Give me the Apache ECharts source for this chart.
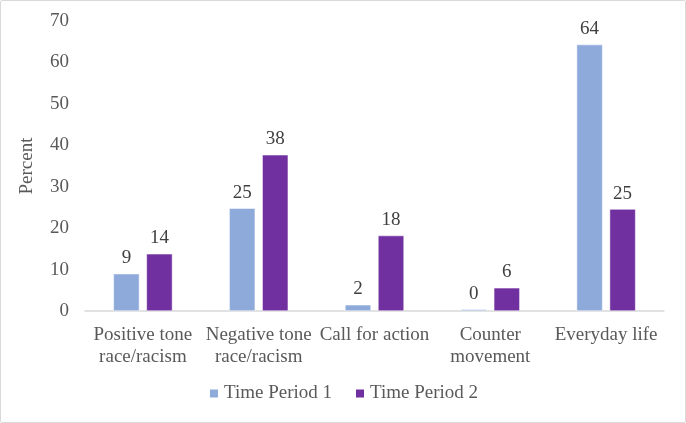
<!DOCTYPE html>
<html>
<head>
<meta charset="utf-8">
<script src="https://cdn.jsdelivr.net/npm/echarts@6/dist/echarts.min.js"></script>
<style>
html,body{margin:0;padding:0;background:#fff;}
#c{position:absolute;left:0;top:0;width:684px;height:421px;border:1px solid #d9d9d9;border-radius:2px;}
</style>
</head>
<body>
<div id="c"></div>
<script>
const categories = ["Positive tone\nrace/racism", "Negative tone\nrace/racism", "Call for action", "Counter\nmovement", "Everyday life"];
const period1 = [9.0, 24.8, 1.5, 0.4, 64.3];
const period2 = [13.8, 37.7, 18.2, 5.6, 24.6];
const seriesNames = ["Time Period 1", "Time Period 2"];
const yTicks = {min: 0, max: 70, interval: 10};

const font = "'Liberation Serif', 'Times New Roman', serif";
const fs = 19;
const chart = echarts.init(document.getElementById('c'));
const lbl = {show: true, position: 'top', distance: 6, color: '#404040', fontFamily: font, fontSize: fs,
  formatter: p => Math.round(p.value)};
chart.setOption({
  animation: false,
  textStyle: {fontFamily: font},
  grid: {left: 84, right: 21, top: 20, bottom: 111},
  legend: {
    bottom: 14, left: 'center', itemWidth: 10, itemHeight: 10, itemGap: 22,
    icon: 'rect',
    textStyle: {fontFamily: font, fontSize: fs, color: '#595959'},
    data: seriesNames
  },
  xAxis: {
    type: 'category', data: categories,
    axisLine: {lineStyle: {color: '#d9d9d9', width: 1.5}},
    axisTick: {show: false},
    axisLabel: {fontFamily: font, fontSize: fs, color: '#595959', margin: 13, lineHeight: 22, interval: 0}
  },
  yAxis: {
    type: 'value', min: yTicks.min, max: yTicks.max, interval: yTicks.interval,
    name: 'Percent', nameLocation: 'middle', nameGap: 48, nameRotate: 90,
    nameTextStyle: {fontFamily: font, fontSize: fs, color: '#595959'},
    splitLine: {show: false},
    axisLine: {show: false}, axisTick: {show: false},
    axisLabel: {fontFamily: font, fontSize: fs, color: '#595959', margin: 16}
  },
  series: [
    {name: seriesNames[0], type: 'bar', data: period1, barWidth: 26, barGap: '27%',
     itemStyle: {color: '#8eaadb', borderColor: '#ffffff', borderWidth: 0.5}, label: lbl},
    {name: seriesNames[1], type: 'bar', data: period2, barWidth: 26,
     itemStyle: {color: '#7030a0', borderColor: '#ffffff', borderWidth: 0.5}, label: lbl}
  ]
});
</script>
</body>
</html>
